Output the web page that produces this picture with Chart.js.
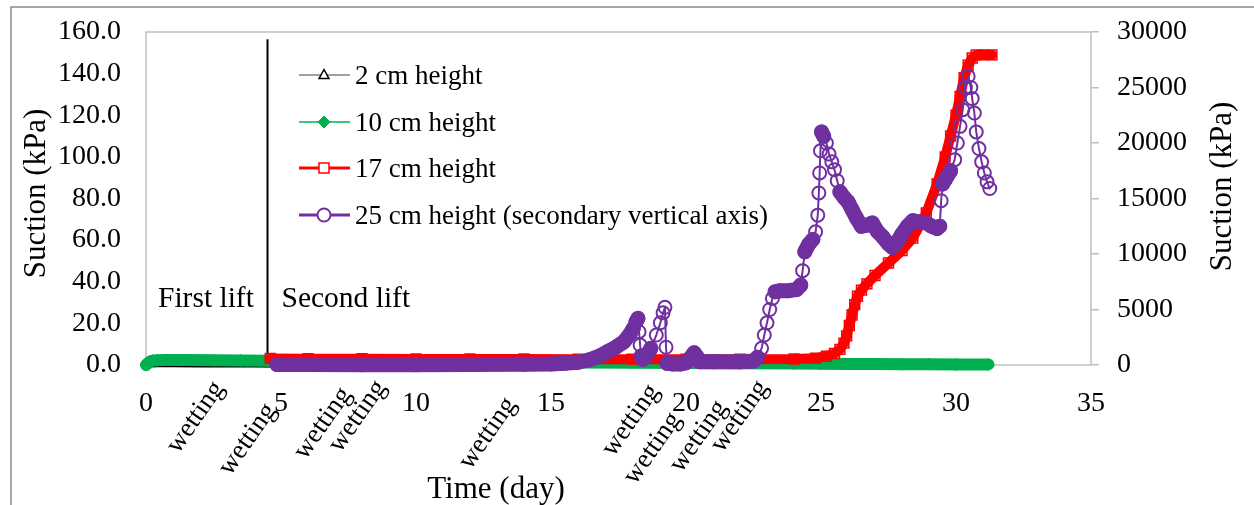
<!DOCTYPE html>
<html>
<head>
<meta charset="utf-8">
<script src="https://cdn.jsdelivr.net/npm/chart.js@4.4.1/dist/chart.umd.min.js"></script>
<style>
  html, body { margin: 0; padding: 0; background: #fff; }
  #wrap { position: relative; width: 1254px; height: 505px; }
</style>
</head>
<body>
<div id="wrap"><canvas id="chart" width="1254" height="505"></canvas></div>
<script>
// Suction readings by sensor height: day of test and suction (kPa)
const days2cm = [0, 0.05, 0.1, 0.2, 0.4, 1, 2, 3, 4, 5, 7, 10, 13, 16, 19, 22, 25, 27, 29, 31.2];
const suction2cm = [0, 0.2, 0.4, 0.5, 0.6, 0.6, 0.5, 0.5, 0.5, 0.4, 0.4, 0.3, 0.3, 0.3, 0.2, 0.2, 0.1, 0.1, 0, 0];

const days10cm = [0, 0.05, 0.1, 0.15, 0.25, 0.4, 0.7, 1.5, 2.5, 3.5, 4.5, 6, 8, 10, 12, 14, 16, 18, 20, 22, 24, 25, 26, 27, 28, 29, 30, 31.2];
const suction10cm = [0, 0.6, 1.2, 1.7, 2.1, 2.3, 2.4, 2.4, 2.3, 2.2, 2.1, 2.0, 1.8, 1.6, 1.5, 1.4, 1.2, 1.1, 1.0, 0.8, 0.7, 0.6, 0.5, 0.5, 0.4, 0.4, 0.3, 0.3];

const days17cm = [4.6, 6, 8, 10, 12, 14, 16, 18, 20, 22, 24, 24.8, 25.2, 25.5, 25.7, 25.85, 25.95, 26.05, 26.15, 26.25, 26.35, 26.5, 26.7, 27.0, 27.5, 28.0, 28.4, 28.9, 29.3, 29.6, 29.8, 30.0, 30.15, 30.3, 30.45, 30.6, 30.75, 31.0, 31.33];
const suction17cm = [3.1, 3.0, 3.0, 2.9, 2.9, 2.9, 2.8, 2.8, 2.8, 2.8, 2.9, 3.3, 4.2, 5.5, 7.5, 10.5, 14, 19, 24, 29, 33, 36, 39, 43, 49, 55, 61, 73, 87, 100, 110, 120, 129, 138, 144, 147.5, 149, 149, 149];

// 25 cm sensor is plotted against the secondary axis
const days25cm = [4.85, 6, 8, 10, 12, 14, 15, 15.5, 16, 16.4, 16.8, 17.1, 17.4, 17.7, 17.9, 18.05, 18.15, 18.22, 18.26, 18.3,
  18.34, 18.4, 18.5, 18.7, 18.9, 19.05, 19.15, 19.22, 19.26, 19.3, 19.5, 19.8, 20.0, 20.15, 20.3, 20.42, 20.5, 21, 22, 22.5,
  22.65, 22.8, 22.9, 23.0, 23.1, 23.2, 23.3, 23.5, 23.8, 24.1, 24.25, 24.32, 24.4, 24.55, 24.7, 24.8, 24.88, 24.92, 24.95, 24.98,
  25.02, 25.1, 25.2, 25.3, 25.4, 25.5, 25.6, 25.7, 25.85, 26.0, 26.15, 26.3, 26.5, 26.7, 26.9, 27.1, 27.3, 27.5, 27.65, 27.8,
  28.0, 28.2, 28.4, 28.6, 28.9, 29.1, 29.3, 29.4, 29.45, 29.5, 29.6, 29.8, 29.95, 30.05, 30.15, 30.25, 30.35, 30.45, 30.55, 30.6,
  30.68, 30.75, 30.85, 30.95, 31.05, 31.15, 31.25];
const suction25cm = [50, 40, 30, 30, 40, 60, 100, 150, 250, 450, 800, 1200, 1600, 2100, 2700, 3300, 3900, 4200, 3000, 1800,
  800, 500, 700, 1500, 2700, 3800, 4700, 5200, 1600, 150, 100, 100, 200, 600, 1100, 700, 300, 300, 300, 350,
  700, 1500, 2700, 3800, 5000, 6000, 6600, 6700, 6700, 6800, 7200, 8500, 10200, 10900, 11300, 12000, 13500, 15500, 17300, 19300,
  21000, 20600, 20000, 19000, 18300, 17600, 16600, 15600, 15100, 14700, 14000, 13300, 12500, 12600, 12800, 12000, 11500, 10900, 10600, 11000,
  11800, 12500, 13000, 12900, 12800, 12500, 12300, 12500, 14800, 16300, 16700, 17500, 18500, 20000, 21500, 23000, 25000, 26000, 25000, 24000,
  22700, 21000, 19500, 18300, 17300, 16500, 15900];

const seriesNames = ['2 cm height', '10 cm height', '17 cm height', '25 cm height (secondary vertical axis)'];

// Day on which the second lift was placed, and the height of its marker line (kPa)
const secondLiftDay = 4.5;
const secondLiftMarkTop = 156.5;

// Wetting events noted under the time axis (day) and how far below the axis each note sits (px)
const wettingDays = [2.7, 4.63, 7.41, 8.7, 13.52, 18.82, 19.63, 21.33, 22.85];
const wettingDrop = [19, 41, 25, 18, 35, 22, 50, 38, 18];

const SERIF = 'Liberation Serif';
Chart.defaults.font.family = SERIF;
Chart.defaults.color = '#000';

const pts = (xs, ys) => xs.map((x, i) => ({ x: x, y: ys[i] }));

// Dense logging makes flat stretches read as a solid band; steep runs show the single markers
const slopeOf = c => Math.abs((c.p1.y - c.p0.y) / ((c.p1.x - c.p0.x) || 0.001));

// Fixed axis sizes; no extra room reserved for the end tick labels
const fixWidth = w => s => { s.width = w; s.paddingTop = 0; s.paddingBottom = 0; };

const frame = {
  id: 'frame',
  beforeDraw(chart) {
    const { ctx } = chart;
    ctx.save();
    ctx.fillStyle = '#fff';
    ctx.fillRect(0, 0, chart.width, chart.height);
    ctx.strokeStyle = '#8a8a8a';
    ctx.lineWidth = 1.5;
    ctx.strokeRect(11, 7, chart.width + 40, chart.height + 40);
    ctx.restore();
  },
  beforeDatasetsDraw(chart) {
    const { ctx, chartArea: a } = chart;
    ctx.save();
    ctx.strokeStyle = '#c0c0c0';
    ctx.lineWidth = 1.5;
    ctx.strokeRect(a.left, a.top, a.right - a.left, a.bottom - a.top);
    ctx.restore();
  }
};

function drawMarker(ctx, m, x, y) {
  ctx.save();
  ctx.lineWidth = m.bw;
  ctx.strokeStyle = m.stroke;
  ctx.fillStyle = m.fill;
  ctx.beginPath();
  const r = m.r;
  if (m.shape === 'triangle') {
    ctx.moveTo(x, y - r);
    ctx.lineTo(x + r * 0.9, y + r * 0.65);
    ctx.lineTo(x - r * 0.9, y + r * 0.65);
    ctx.closePath();
  } else if (m.shape === 'diamond') {
    ctx.moveTo(x, y - r);
    ctx.lineTo(x + r, y);
    ctx.lineTo(x, y + r);
    ctx.lineTo(x - r, y);
    ctx.closePath();
  } else if (m.shape === 'square') {
    ctx.rect(x - r, y - r, 2 * r, 2 * r);
  } else {
    ctx.arc(x, y, r, 0, Math.PI * 2);
  }
  ctx.fill();
  ctx.stroke();
  ctx.restore();
}

const legendSamples = [
  { line: '#808080', lw: 1.5, marker: { shape: 'triangle', r: 5.5, bw: 1.5, stroke: '#000', fill: '#fff' } },
  { line: '#00b050', lw: 1.5, marker: { shape: 'diamond', r: 6, bw: 1, stroke: '#00b050', fill: '#00b050' } },
  { line: '#ff0000', lw: 3, marker: { shape: 'square', r: 5, bw: 1.5, stroke: '#ff0000', fill: '#fff' } },
  { line: '#7030a0', lw: 3, marker: { shape: 'circle', r: 6.5, bw: 2, stroke: '#7030a0', fill: '#fff' } }
];

const notes = {
  id: 'notes',
  afterDraw(chart) {
    const { ctx, chartArea: a, scales } = chart;
    ctx.save();
    ctx.fillStyle = '#000';

    // legend
    ctx.font = '27px ' + SERIF;
    ctx.textAlign = 'left';
    ctx.textBaseline = 'alphabetic';
    const rows = [43, 90, 136, 183];
    seriesNames.forEach((name, i) => {
      const y = a.top + rows[i];
      const s = legendSamples[i];
      ctx.strokeStyle = s.line;
      ctx.lineWidth = s.lw;
      ctx.beginPath();
      ctx.moveTo(a.left + 153, y);
      ctx.lineTo(a.left + 204, y);
      ctx.stroke();
      drawMarker(ctx, s.marker, a.left + 178, y);
      ctx.fillStyle = '#000';
      ctx.fillText(name, a.left + 209, y + 8.5);
    });

    // lift labels
    const liftX = scales.x.getPixelForValue(secondLiftDay);
    ctx.font = '29.5px ' + SERIF;
    ctx.fillText('First lift', a.left + 12, a.top + 275);
    ctx.fillText('Second lift', liftX + 14, a.top + 275);

    // wetting notes
    ctx.font = '27px ' + SERIF;
    ctx.textAlign = 'right';
    ctx.textBaseline = 'middle';
    wettingDays.forEach((d, i) => {
      ctx.save();
      ctx.translate(scales.x.getPixelForValue(d), a.bottom + wettingDrop[i]);
      ctx.rotate(-55 * Math.PI / 180);
      ctx.fillText('wetting', 0, 0);
      ctx.restore();
    });

    // axis titles
    ctx.font = '31px ' + SERIF;
    ctx.textAlign = 'center';
    ctx.textBaseline = 'alphabetic';
    ctx.fillText('Time (day)', a.left + 350, a.bottom + 133);
    ctx.save();
    ctx.translate(44.5, (a.top + a.bottom) / 2 - 5);
    ctx.rotate(-Math.PI / 2);
    ctx.fillText('Suction (kPa)', 0, 0);
    ctx.restore();
    ctx.save();
    ctx.translate(a.right + 140, (a.top + a.bottom) / 2 - 12);
    ctx.rotate(-Math.PI / 2);
    ctx.fillText('Suction (kPa)', 0, 0);
    ctx.restore();

    ctx.restore();
  }
};

const tickFont = { family: SERIF, size: 28, style: 'normal', weight: 'normal' };

new Chart(document.getElementById('chart'), {
  type: 'line',
  data: {
    datasets: [
      {
        label: seriesNames[3],
        data: pts(days25cm, suction25cm),
        yAxisID: 'y2',
        order: 0,
        borderColor: '#7030a0',
        borderWidth: 2,
        borderCapStyle: 'round',
        borderJoinStyle: 'round',
        segment: { borderWidth: c => (slopeOf(c) > 2.1 ? 2 : 15) },
        pointStyle: 'circle',
        pointRadius: 6.5,
        pointBorderWidth: 2,
        pointBorderColor: '#7030a0',
        pointBackgroundColor: 'rgba(0,0,0,0)',
        clip: false
      },
      {
        label: seriesNames[2],
        data: pts(days17cm, suction17cm),
        yAxisID: 'y',
        order: 1,
        borderColor: '#ff0000',
        borderWidth: 10,
        borderCapStyle: 'round',
        borderJoinStyle: 'round',
        pointStyle: 'rect',
        pointRadius: 7,
        pointBorderWidth: 1.5,
        pointBorderColor: '#ff0000',
        pointBackgroundColor: 'rgba(0,0,0,0)',
        clip: false
      },
      {
        label: seriesNames[1],
        data: pts(days10cm, suction10cm),
        yAxisID: 'y',
        order: 2,
        borderColor: '#00b050',
        borderWidth: 12,
        borderCapStyle: 'round',
        borderJoinStyle: 'round',
        pointStyle: 'rectRot',
        pointRadius: 6,
        pointBorderWidth: 1,
        pointBorderColor: '#00b050',
        pointBackgroundColor: '#00b050',
        clip: false
      },
      {
        label: seriesNames[0],
        data: pts(days2cm, suction2cm),
        yAxisID: 'y',
        order: 3,
        borderColor: '#000',
        borderWidth: 7,
        borderCapStyle: 'round',
        borderJoinStyle: 'round',
        pointStyle: 'triangle',
        pointRadius: 4,
        pointBorderWidth: 1,
        pointBorderColor: '#000',
        pointBackgroundColor: 'rgba(0,0,0,0)',
        clip: false
      },
      {
        label: 'lift',
        data: [{ x: secondLiftDay, y: 0 }, { x: secondLiftDay, y: secondLiftMarkTop }],
        yAxisID: 'y',
        order: 4,
        borderColor: '#000',
        borderWidth: 2,
        pointRadius: 0
      }
    ]
  },
  options: {
    responsive: false,
    devicePixelRatio: 1,
    animation: false,
    events: [],
    layout: { padding: { top: 32, left: 0, right: 0, bottom: 0 } },
    elements: { line: { tension: 0 } },
    plugins: { legend: { display: false }, tooltip: { enabled: false } },
    scales: {
      x: {
        type: 'linear',
        min: 0,
        max: 35,
        afterFit: s => { s.height = 140; s.paddingLeft = 0; s.paddingRight = 0; },
        grid: { display: false, drawTicks: false },
        border: { display: false },
        ticks: {
          stepSize: 5,
          maxRotation: 0,
          padding: 22,
          color: '#000',
          font: tickFont,
          callback: v => String(v)
        }
      },
      y: {
        position: 'left',
        min: 0,
        max: 160,
        afterFit: fixWidth(146),
        grid: { display: false, drawTicks: false },
        border: { display: false },
        ticks: {
          stepSize: 20,
          padding: 25,
          color: '#000',
          font: tickFont,
          callback: v => Number(v).toFixed(1)
        }
      },
      y2: {
        position: 'right',
        min: 0,
        max: 30000,
        afterFit: fixWidth(163),
        grid: { display: true, drawOnChartArea: false, drawTicks: true, tickLength: 8, color: '#c0c0c0', lineWidth: 1.5 },
        border: { display: false },
        ticks: {
          stepSize: 5000,
          padding: 18,
          color: '#000',
          font: tickFont,
          callback: v => String(v)
        }
      }
    }
  },
  plugins: [frame, notes]
});
</script>
</body>
</html>
